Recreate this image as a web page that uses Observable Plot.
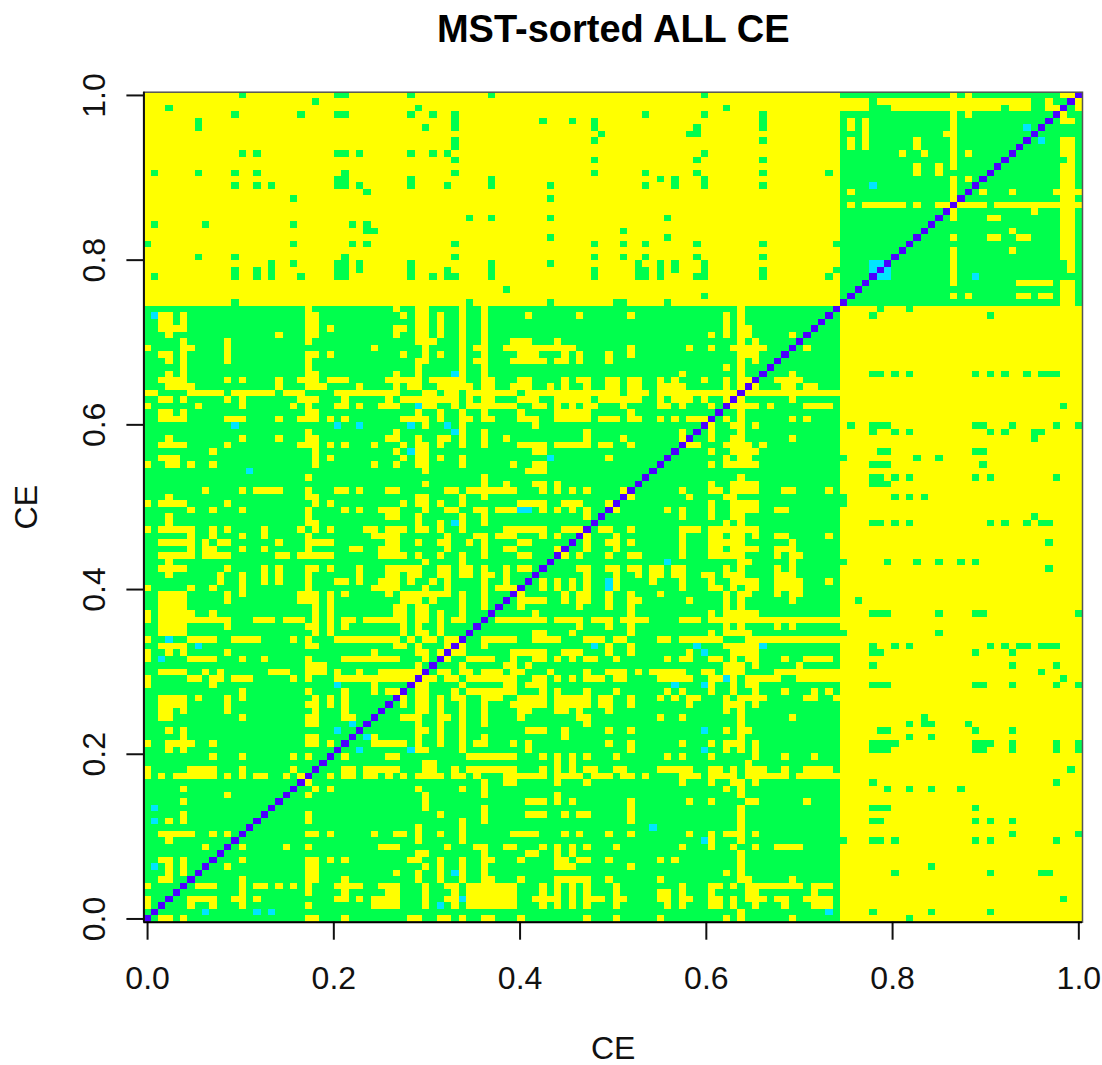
<!DOCTYPE html>
<html><head><meta charset="utf-8">
<script src="https://cdn.jsdelivr.net/npm/d3@7"></script>
<script src="https://cdn.jsdelivr.net/npm/@observablehq/plot@0.6"></script>
<style>html,body{margin:0;padding:0;background:#fff}svg{display:block}</style>
</head><body><div id="chart"></div>
<script>
const chartTitle = "MST-sorted ALL CE";
const axisLabel = "CE";
const tickValues = [0, 0.2, 0.4, 0.6, 0.8, 1];
const levelNames = ["self", "close", "mid", "far"];
const levelColors = ["#4C00FF", "#00E5FF", "#00FF4D", "#FFFF00"];
const cellCount = 128;
const groupSize = 95;

// Rows 0..94, columns below the diagonal: "far" cells in the large cluster
const farInCluster = ["","","0","0","","0","2-3","3,5","3,5","2-3,5","","8","3","2-6,9,11","","3,5","5","","5","11","5","",
"0,2,4-9,11,13,15-16,19,21","0,6-9,13,20","","9,13,20,22","3,5","0,3-6,9,22-23,25","5,22-23","3,5","22-23",
"2-3,13,22-23,27-28","2-3,5,11,23,27","2-5,11,22-23,25,27","2-5,7,11,13,23,25,27","13,22,27,31,33-34","0,9,31",
"0,6-7,9-10,12-14,20,22,26-36","2-5,8,10,17-19,22-24,26,29,32-37","22-24,37","0,6-9,13,16,22,27-34,38",
"0,3,5,11,31,37-38,40","2-5,22-23,34-35,37,41","0,6-9,12-15,20,22,26-34,36,38-39,41-42",
"2-5,23,25,35,37-38,40","2-5,11,22-23,25,27,35,37,40","0,2-11,15-17,19-21,23,25,27-28,30-35,37-38,40,42-43",
"0,2-6,9,23,25,34-35,37-38,40,43","2-5,23,25,34-35,37-38,43,46","2-5,11,21-23,25,35-37,39,43,46",
"2-5,11,13,21-23,25,27,33,35-41,43,46","0,6,9,13,22,31-34,38,41,46,48-50","10,13,16,18,22,26-27,29,32-34,36,39,41,46,49",
"3,10,13,16,18,22,29,33-34,36-37,40-41,43-44,46-47,49","2-5,11,16,18,22-23,25,29,33-37,40-41,43-44,46,49,51-52","3,38,43",
"2-6,8-11,18-19,21-25,32-35,37,40,43,46,51-52","6,8-9,13,16,22,28-29,32-34,41,46,49-50,56",
"2-6,8,10-11,18,22-25,33-34,37,40-41,44,46,51-52","6,9,13,16,22,31-34,41,45-46,48-50,54,56",
"0,2-6,9,11,16,21,23,25,30-31,33-35,37-38,40,43,49-54,57-59","3,22-23,37,40,43,46","3,22,33-34,37,43,46,60",
"6,9,13,22,27,29,32-34,38,41-42,45-46,48-50,54,56,58,60","0,2-5,11,23,25,35,37-38,40,43,51-54,57-59,63","3,22-23,37-38,43,46",
"8,13,15-18,22,26-27,29,33-34,41-42,44-50,54,56,58,60,65","38,46,49,53-54,56","22,46","38,52-54",
"0,3-4,6,9,23,31,34,37-38,43,50,53-54","2-4,23,25,35,37-38,40,43,63","9,23,34,37-38,53-54",
"2-5,11,21-23,25,27,31,35,37-38,40,43,46,51-54,56-60,62-63,66","3,13,18,22-23,33-34,37,40-41,43,46,49,60,65,73",
"22,34,43,46,60,73","38,43,53","2-5,11-13,18,21-23,25,27,35-38,40,43-44,46-47,51-53,56-60,62-64,66-67,70,72,74-76",
"2-3,5,22-23,37,40,43,46,51,56-60,66","0,7,13,20,22,26-27,29,32-34,38-39,42,44-50,53-54,56,58,60-61,65,70-71,73,77",
"2-3,5,11,13,21-23,27,33,35-42,44,46-47,51-53,56-60,62-67,70,72-74,76,79",
"0-1,6-10,12-17,19-21,26-34,38-39,41-42,44-50,52-64,66-68,70-80","3-6,18,22-24,29,34,36-37,40-44,46-47,50-52,55,57,60,63-64,66-67,70-73,79,81",
"2-5,11,13,18,21-23,25-27,33-37,39-43,46-47,51-52,57,59-60,63-64,66-67,70,72,76,79,81-82","3,5,22-23,34,37,43,46,73,81","5,22,37,43,46,79,81",
"3,5,11,22,37-38,43,45-46,50-54,56-57,59,63,81,83","2-3,5,11,22-23,25,35,38,40,43,46,51-53,57,59,63,66,81-83",
"0,5-6,11,31,38,43,45-46,49-58,66,74,77,80-84","5,11,22,37-39,43,46,50-52,56,81,83","3,18,22-23,34,37-38,40,43,46,77,79,81-82,88",
"2-5,22-23,25,34-35,37-38,40,43,46,79,81-82","2-3,5,22-23,37-38,40,43,46,79,81","2-3,5,22-23,35,37-38,40,43,46,52,59,66,79,81","22,34,37-38,43,46,81"];

// Rows 95..127, columns 0..94: "mid" cells in the far-apart block
const midBetweenClusters = ["12,44,55,64-65,71","76","49","","1,12,15,17,21,26-27,36,39,41-42,47,61,67-68,70,75-76,84,93",
"12,15,17,26-27,29,36,41,47,61,67-68,70,72,76,84,94","17,20,26-27,29,36,47,55,67,70,72,76","7,12,27,42,61,65,68,75,84","",
"0,20,28,30,42,61,65,68,75,84,94","55,71","30-31,65","1,8,20,28,30","44,47,55,71","","","20,55","30",
"12,15,17,26-27,29,36,41,47,55,68,72,76,84","26-27,36,47,70,72,76","1,7,12,15,27,42,61,68,75,84,93","","42,61,75,84",
"13,15,26-27,29,36,39,41,76","42","42,61,84","62,74-75","7,38,42,61,75,84","7,42,54,58,61,84","12,21,26-27,36,39,42,68,76,84","3,37,79","23","13,26-27,36,47,76"];

// Rows 95..127, columns 95.. below the diagonal: "far" cells in the small cluster
const farInSmallCluster = ["","","","","","","","","","","","","","","","96,98-103,105,108-109","110","96,110","110","110,112","105,108","105,108,110","110",
"103,106,110,112","96,98,105,110","96,98,105,110","98,109-110","96,98,110","96,98,110","110,112","95-98,102-116,118-120,123-124","95-98,100-120,123","110,112,125-126"];

// Row and column pairs below the diagonal: "close" cells
const closeRows = [8,15,17,93,40,43,42,36,29,30,84,75,61,79,76,76,76,76,76,72,69,71,63,63,113,122,101,101,100,99];
const closeCols = [1,1,1,1,2,3,7,26,26,28,42,42,42,37,12,26,29,36,41,36,14,55,51,52,99,120,99,100,99,113];

const parseRuns = s => s === "" ? [] : s.split(",").flatMap(p => {
  const [a, b = a] = p.split("-").map(Number);
  return d3.range(a, b + 1);
});

const matrix = d3.range(cellCount).map(i => d3.range(cellCount).map(j =>
  (i < groupSize) === (j < groupSize) ? 2 : 3));
const setBoth = (i, j, v) => { matrix[i][j] = v; matrix[j][i] = v; };
farInCluster.forEach((s, i) => parseRuns(s).forEach(j => setBoth(i, j, 3)));
midBetweenClusters.forEach((s, k) => parseRuns(s).forEach(j => setBoth(k + groupSize, j, 2)));
farInSmallCluster.forEach((s, k) => parseRuns(s).forEach(j => setBoth(k + groupSize, j, 3)));
closeRows.forEach((r, k) => setBoth(r, closeCols[k], 1));
d3.range(cellCount).forEach(i => { matrix[i][i] = 0; });

const cells = matrix.flatMap((row, i) => row.map((v, j) => ({i, j, level: levelNames[v]})));
const step = 1 / (cellCount - 1);
const fmt = d3.format(".1f");
const tickFont = 32;

const plot = Plot.plot({
  width: 1102,
  height: 1065,
  marginLeft: 143.4,
  marginRight: 20,
  marginTop: 91.7,
  marginBottom: 143.3,
  style: {fontFamily: "'Liberation Sans', Arial, sans-serif", background: "#fff", color: "#000"},
  x: {domain: [-step / 2, 1 + step / 2]},
  y: {domain: [-step / 2, 1 + step / 2]},
  color: {type: "ordinal", domain: levelNames, range: levelColors},
  marks: [
    Plot.rect(cells, {
      x1: d => (d.j - 0.5) * step, x2: d => (d.j + 0.5) * step,
      y1: d => (d.i - 0.5) * step, y2: d => (d.i + 0.5) * step,
      fill: "level", shapeRendering: "crispEdges"
    }),
    Plot.frame({stroke: "#555", strokeWidth: 1.5}),
    Plot.axisX({ticks: tickValues, tickFormat: fmt, tickSize: 18, tickPadding: 26, fontSize: tickFont,
      strokeWidth: 2, stroke: "#111", fill: "#111", label: axisLabel, labelAnchor: "center", labelArrow: "none", labelOffset: 137}),
    Plot.axisY({ticks: tickValues, tickFormat: fmt, tickSize: 17, tickPadding: 22, fontSize: tickFont, tickRotate: -90,
      textAnchor: "middle", strokeWidth: 2, stroke: "#111", fill: "#111", label: axisLabel, labelAnchor: "center", labelArrow: "none", labelOffset: 130}),
    Plot.ruleX([-step / 2], {stroke: "#111", strokeWidth: 2}),
    Plot.ruleY([-step / 2], {stroke: "#000", strokeWidth: 2}),
    Plot.text([chartTitle], {frameAnchor: "top", dy: -77, fontSize: 38, fontWeight: "bold", fill: "#000"})
  ]
});
document.getElementById("chart").appendChild(plot);
</script></body></html>
